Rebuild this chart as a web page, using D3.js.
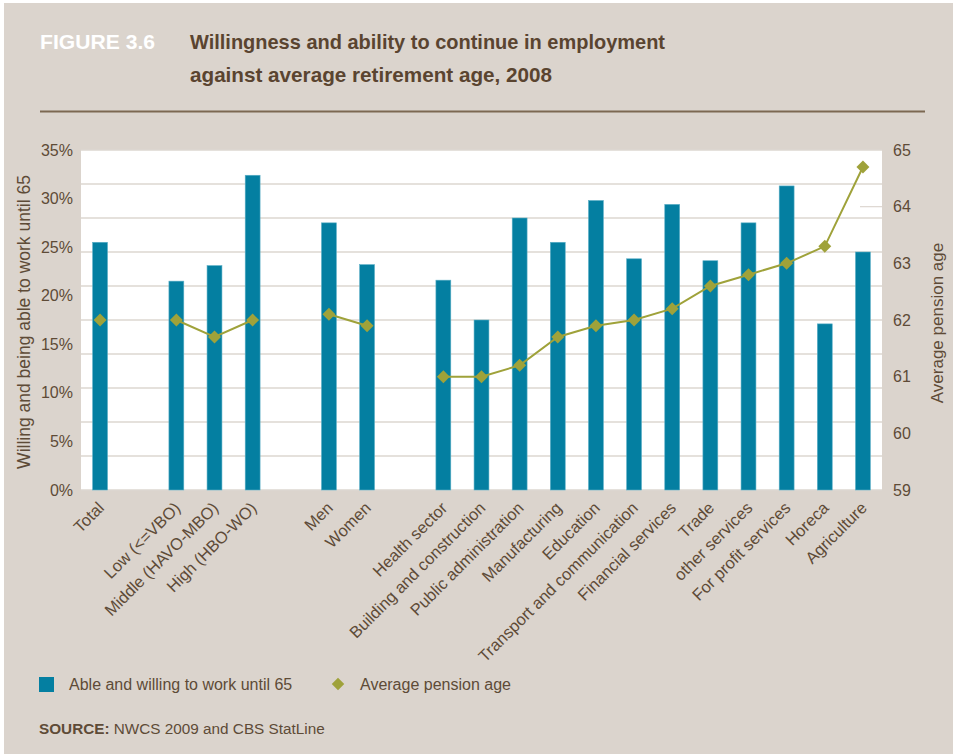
<!DOCTYPE html>
<html>
<head>
<meta charset="utf-8">
<script src="https://cdn.jsdelivr.net/npm/d3@7"></script>
<style>
  html, body { margin: 0; padding: 0; background: #ffffff; }
  svg { display: block; }
</style>
</head>
<body>
<svg id="chart" width="953" height="754"></svg>
<script>
// Categories along the x axis; empty strings are spacer slots between groups
const categories = [
  "Total", "", "Low (<=VBO)", "Middle (HAVO-MBO)", "High (HBO-WO)", "",
  "Men", "Women", "",
  "Health sector", "Building and construction", "Public administration",
  "Manufacturing", "Education", "Transport and communication",
  "Financial services", "Trade", "other services", "For profit services",
  "Horeca", "Agriculture"
];

// Share able and willing to work until 65 (%), null for spacer slots
const ableWilling = [
  25.5, null, 21.5, 23.1, 32.4, null,
  27.5, 23.2, null,
  21.6, 17.5, 28.0, 25.5, 29.8, 23.8, 29.4, 23.6, 27.5, 31.3, 17.1, 24.5
];

// Average pension age (years), null for spacer slots
const pensionAge = [
  62.0, null, 62.0, 61.7, 62.0, null,
  62.1, 61.9, null,
  61.0, 61.0, 61.2, 61.7, 61.9, 62.0, 62.2, 62.6, 62.8, 63.0, 63.3, 64.7
];

// Line segments connect points inside each group only
const lineGroups = [[0, 0], [2, 4], [6, 7], [9, 20]];

const leftTicks = [0, 5, 10, 15, 20, 25, 30, 35];
const rightTicks = [59, 60, 61, 62, 63, 64, 65];

const titleLines = [
  { text: "Willingness and ability to continue in employment", width: 475 },
  { text: "against average retirement age, 2008", width: 362 }
];

const textColor = "#5e4b37";
const barColor = "#047fa1";
const lineColor = "#9fa23a";
const bgColor = "#dbd4cd";
const gridColor = "#ddd7d0";

const svg = d3.select("#chart");

// Panel background
svg.append("rect")
  .attr("x", 4).attr("y", 3).attr("width", 949).attr("height", 751)
  .attr("fill", bgColor);

// Heading, set in a narrow bold face
const headFont = "'Liberation Sans', Arial, sans-serif";
svg.append("text")
  .attr("x", 40).attr("y", 49)
  .attr("font-family", headFont)
  .attr("font-weight", "bold").attr("font-size", 20.5)
  .attr("fill", "#ffffff")
  .attr("textLength", 115).attr("lengthAdjust", "spacingAndGlyphs")
  .text("FIGURE 3.6");

svg.selectAll("text.title")
  .data(titleLines)
  .join("text")
  .attr("class", "title")
  .attr("x", 190)
  .attr("y", (d, i) => 49 + i * 33)
  .attr("font-family", headFont)
  .attr("font-weight", "bold").attr("font-size", 20.5)
  .attr("fill", "#5a4430")
  .attr("textLength", d => d.width).attr("lengthAdjust", "spacingAndGlyphs")
  .text(d => d.text);

svg.append("line")
  .attr("x1", 40).attr("x2", 925).attr("y1", 111.5).attr("y2", 111.5)
  .attr("stroke", "#7c6852").attr("stroke-width", 2);

// Plot area
const plot = { left: 81, right: 882, top: 150, bottom: 490 };

const x = d3.scaleBand()
  .domain(d3.range(categories.length))
  .range([plot.left, plot.right])
  .paddingInner(0.61)
  .paddingOuter(0.305);

const yLeft = d3.scaleLinear().domain([0, 35]).range([plot.bottom, plot.top]);
const yRight = d3.scaleLinear().domain([59, 65]).range([plot.bottom, plot.top]);

svg.append("rect")
  .attr("x", plot.left).attr("y", plot.top)
  .attr("width", plot.right - plot.left).attr("height", plot.bottom - plot.top)
  .attr("fill", "#ffffff");

// Horizontal gridlines divide the plot into ten equal bands
const gridVals = d3.range(0, 11).map(i => i * 3.5);
svg.append("g")
  .selectAll("line")
  .data(gridVals)
  .join("line")
  .attr("x1", plot.left).attr("x2", plot.right)
  .attr("y1", d => yLeft(d)).attr("y2", d => yLeft(d))
  .attr("stroke", gridColor).attr("stroke-width", 1.6);

// Short marker on the right axis at age 64
svg.append("line")
  .attr("x1", 860).attr("x2", plot.right)
  .attr("y1", yRight(64)).attr("y2", yRight(64))
  .attr("stroke", gridColor).attr("stroke-width", 1.2);

// Bars
const barData = categories.map((c, i) => ({ i, v: ableWilling[i] })).filter(d => d.v != null);
svg.append("g")
  .selectAll("rect")
  .data(barData)
  .join("rect")
  .attr("x", d => x(d.i))
  .attr("width", x.bandwidth())
  .attr("y", d => yLeft(d.v))
  .attr("height", d => yLeft(0) - yLeft(d.v))
  .attr("fill", barColor)
  .attr("stroke", "#5aaec6").attr("stroke-width", 0.6);

// Pension age line
const cx = i => x(i) + x.bandwidth() / 2;
const line = d3.line().x(d => cx(d)).y(d => yRight(pensionAge[d]));
svg.append("g")
  .selectAll("path")
  .data(lineGroups.filter(g => g[1] > g[0]))
  .join("path")
  .attr("d", g => line(d3.range(g[0], g[1] + 1)))
  .attr("fill", "none")
  .attr("stroke", lineColor).attr("stroke-width", 2);

const diamond = d3.symbol().type(d3.symbolSquare).size(84);
const pointData = categories.map((c, i) => ({ i, v: pensionAge[i] })).filter(d => d.v != null);
svg.append("g")
  .selectAll("path")
  .data(pointData)
  .join("path")
  .attr("d", diamond)
  .attr("transform", d => `translate(${cx(d.i)},${yRight(d.v)}) rotate(45)`)
  .attr("fill", lineColor);

// Axes
const fontFam = "'Liberation Sans', Arial, sans-serif";

const leftAxis = svg.append("g")
  .attr("transform", `translate(${plot.left},0)`)
  .call(d3.axisLeft(yLeft).tickValues(leftTicks).tickFormat(d => d + "%").tickSize(0).tickPadding(8));
const rightAxis = svg.append("g")
  .attr("transform", `translate(${plot.right},0)`)
  .call(d3.axisRight(yRight).tickValues(rightTicks).tickFormat(d3.format("d")).tickSize(0).tickPadding(11));
[leftAxis, rightAxis].forEach(a => {
  a.select(".domain").remove();
  a.selectAll("text")
    .attr("font-family", fontFam).attr("font-size", 16)
    .attr("fill", textColor);
});

const bottomAxis = svg.append("g")
  .attr("transform", `translate(0,${plot.bottom})`)
  .call(d3.axisBottom(x).tickFormat(i => categories[i]).tickSize(0).tickPadding(0));
bottomAxis.select(".domain").remove();
bottomAxis.selectAll(".tick text")
  .attr("font-family", fontFam).attr("font-size", 16.5)
  .attr("fill", textColor)
  .attr("text-anchor", "end")
  .attr("y", 0).attr("dy", 0)
  .attr("transform", "translate(5,19) rotate(-45)");

// Axis titles
svg.append("text")
  .attr("transform", `translate(30,${(plot.top + plot.bottom) / 2 + 2}) rotate(-90)`)
  .attr("text-anchor", "middle")
  .attr("font-family", fontFam).attr("font-size", 17.5)
  .attr("fill", textColor)
  .text("Willing and being able to work until 65");

svg.append("text")
  .attr("transform", `translate(943,${(plot.top + plot.bottom) / 2 + 3}) rotate(-90)`)
  .attr("text-anchor", "middle")
  .attr("font-family", fontFam).attr("font-size", 17)
  .attr("fill", textColor)
  .text("Average pension age");

// Legend
const legend = svg.append("g").attr("font-family", fontFam).attr("font-size", 16).attr("fill", textColor);
legend.append("rect").attr("x", 39).attr("y", 677).attr("width", 15).attr("height", 15).attr("fill", barColor);
legend.append("text").attr("x", 69).attr("y", 690).text("Able and willing to work until 65");
legend.append("path")
  .attr("d", d3.symbol().type(d3.symbolSquare).size(78))
  .attr("transform", "translate(338,684) rotate(45)")
  .attr("fill", lineColor);
legend.append("text").attr("x", 360).attr("y", 690).text("Average pension age");

// Source line
const src = svg.append("text")
  .attr("x", 39).attr("y", 734)
  .attr("font-family", fontFam).attr("font-size", 15.3)
  .attr("fill", textColor);
src.append("tspan").attr("font-weight", "bold").text("SOURCE:");
src.append("tspan").text(" NWCS 2009 and CBS StatLine");
</script>
</body>
</html>
